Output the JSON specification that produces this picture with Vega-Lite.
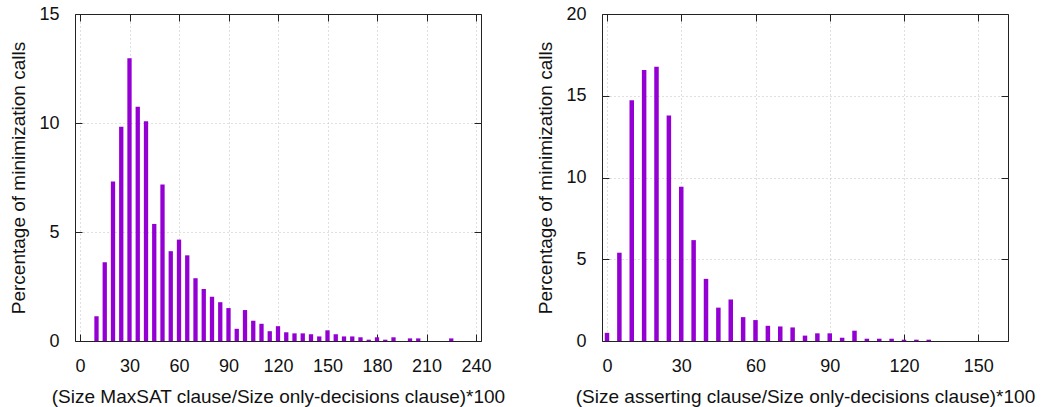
{
  "$schema": "https://vega.github.io/schema/vega-lite/v6.json",
  "background": "white",
  "padding": {"left": 9, "top": 5, "right": 5, "bottom": 5},
  "spacing": 121,
  "bounds": "flush",
  "datasets": {
    "left": [
      {"bin": 10, "pct": 1.14}, {"bin": 15, "pct": 3.61}, {"bin": 20, "pct": 7.32}, {"bin": 25, "pct": 9.83},
      {"bin": 30, "pct": 12.97}, {"bin": 35, "pct": 10.75}, {"bin": 40, "pct": 10.08}, {"bin": 45, "pct": 5.37},
      {"bin": 50, "pct": 7.18}, {"bin": 55, "pct": 4.12}, {"bin": 60, "pct": 4.65}, {"bin": 65, "pct": 3.93},
      {"bin": 70, "pct": 2.88}, {"bin": 75, "pct": 2.38}, {"bin": 80, "pct": 2.03}, {"bin": 85, "pct": 1.78},
      {"bin": 90, "pct": 1.51}, {"bin": 95, "pct": 0.56}, {"bin": 100, "pct": 1.42}, {"bin": 105, "pct": 0.93},
      {"bin": 110, "pct": 0.79}, {"bin": 115, "pct": 0.45}, {"bin": 120, "pct": 0.68}, {"bin": 125, "pct": 0.4},
      {"bin": 130, "pct": 0.35}, {"bin": 135, "pct": 0.35}, {"bin": 140, "pct": 0.31}, {"bin": 145, "pct": 0.21},
      {"bin": 150, "pct": 0.49}, {"bin": 155, "pct": 0.31}, {"bin": 160, "pct": 0.21}, {"bin": 165, "pct": 0.21},
      {"bin": 170, "pct": 0.17}, {"bin": 175, "pct": 0.06}, {"bin": 180, "pct": 0.17}, {"bin": 185, "pct": 0.06},
      {"bin": 190, "pct": 0.17}, {"bin": 200, "pct": 0.12}, {"bin": 205, "pct": 0.12}, {"bin": 225, "pct": 0.12}
    ],
    "right": [
      {"bin": 0, "pct": 0.5}, {"bin": 5, "pct": 5.4}, {"bin": 10, "pct": 14.72}, {"bin": 15, "pct": 16.58},
      {"bin": 20, "pct": 16.78}, {"bin": 25, "pct": 13.79}, {"bin": 30, "pct": 9.43}, {"bin": 35, "pct": 6.17},
      {"bin": 40, "pct": 3.8}, {"bin": 45, "pct": 2.04}, {"bin": 50, "pct": 2.54}, {"bin": 55, "pct": 1.46},
      {"bin": 60, "pct": 1.28}, {"bin": 65, "pct": 0.93}, {"bin": 70, "pct": 0.89}, {"bin": 75, "pct": 0.83},
      {"bin": 80, "pct": 0.33}, {"bin": 85, "pct": 0.47}, {"bin": 90, "pct": 0.47}, {"bin": 95, "pct": 0.2},
      {"bin": 100, "pct": 0.63}, {"bin": 105, "pct": 0.14}, {"bin": 110, "pct": 0.14}, {"bin": 115, "pct": 0.14},
      {"bin": 120, "pct": 0.08}, {"bin": 125, "pct": 0.08}, {"bin": 130, "pct": 0.08}
    ]
  },
  "config": {
    "view": {"stroke": null},
    "font": "Liberation Sans",
    "axis": {
      "labelFont": "Liberation Sans", "labelFontSize": 18, "labelColor": "#111",
      "titleFont": "Liberation Sans", "titleFontSize": 19, "titleFontWeight": "normal", "titleColor": "#111",
      "domain": true, "domainColor": "#222", "domainWidth": 1,
      "gridColor": "#c0c0c0", "gridDash": [1, 3],
      "tickColor": "#222", "tickSize": -7, "labelPadding": 23
    },
    "axisX": {"titlePadding": 12},
    "axisY": {"titlePadding": 10}
  },
  "hconcat": [
    {
      "width": 406, "height": 327,
      "data": {"name": "left"},
      "resolve": {"axis": {"x": "independent", "y": "independent"}},
      "layer": [
        {
          "mark": {"type": "bar", "color": "#9400d3", "size": 4.3, "clip": true},
          "encoding": {
            "x": {"field": "bin", "type": "quantitative", "scale": {"domain": [0, 240], "nice": false},
                  "axis": {"orient": "bottom", "values": [0, 30, 60, 90, 120, 150, 180, 210, 240], "title": "(Size MaxSAT clause/Size only-decisions clause)*100"}},
            "y": {"field": "pct", "type": "quantitative", "scale": {"domain": [0, 15], "nice": false},
                  "axis": {"orient": "left", "values": [0, 5, 10, 15], "title": "Percentage of minimization calls"}}
          }
        },
        {
          "mark": {"type": "bar", "opacity": 0},
          "encoding": {
            "x": {"field": "bin", "type": "quantitative",
                  "axis": {"orient": "top", "values": [0, 30, 60, 90, 120, 150, 180, 210, 240], "labels": false, "title": null, "grid": false}},
            "y": {"field": "pct", "type": "quantitative",
                  "axis": {"orient": "right", "values": [0, 5, 10, 15], "labels": false, "title": null, "grid": false}}
          }
        }
      ]
    },
    {
      "width": 406, "height": 327,
      "data": {"name": "right"},
      "resolve": {"axis": {"x": "independent", "y": "independent"}},
      "layer": [
        {
          "mark": {"type": "bar", "color": "#9400d3", "size": 4.5, "clip": true},
          "encoding": {
            "x": {"field": "bin", "type": "quantitative", "scale": {"domain": [0, 160], "nice": false},
                  "axis": {"orient": "bottom", "values": [0, 30, 60, 90, 120, 150], "title": "(Size asserting clause/Size only-decisions clause)*100"}},
            "y": {"field": "pct", "type": "quantitative", "scale": {"domain": [0, 20], "nice": false},
                  "axis": {"orient": "left", "values": [0, 5, 10, 15, 20], "title": "Percentage of minimization calls"}}
          }
        },
        {
          "mark": {"type": "bar", "opacity": 0},
          "encoding": {
            "x": {"field": "bin", "type": "quantitative",
                  "axis": {"orient": "top", "values": [0, 30, 60, 90, 120, 150], "labels": false, "title": null, "grid": false}},
            "y": {"field": "pct", "type": "quantitative",
                  "axis": {"orient": "right", "values": [0, 5, 10, 15, 20], "labels": false, "title": null, "grid": false}}
          }
        }
      ]
    }
  ]
}
